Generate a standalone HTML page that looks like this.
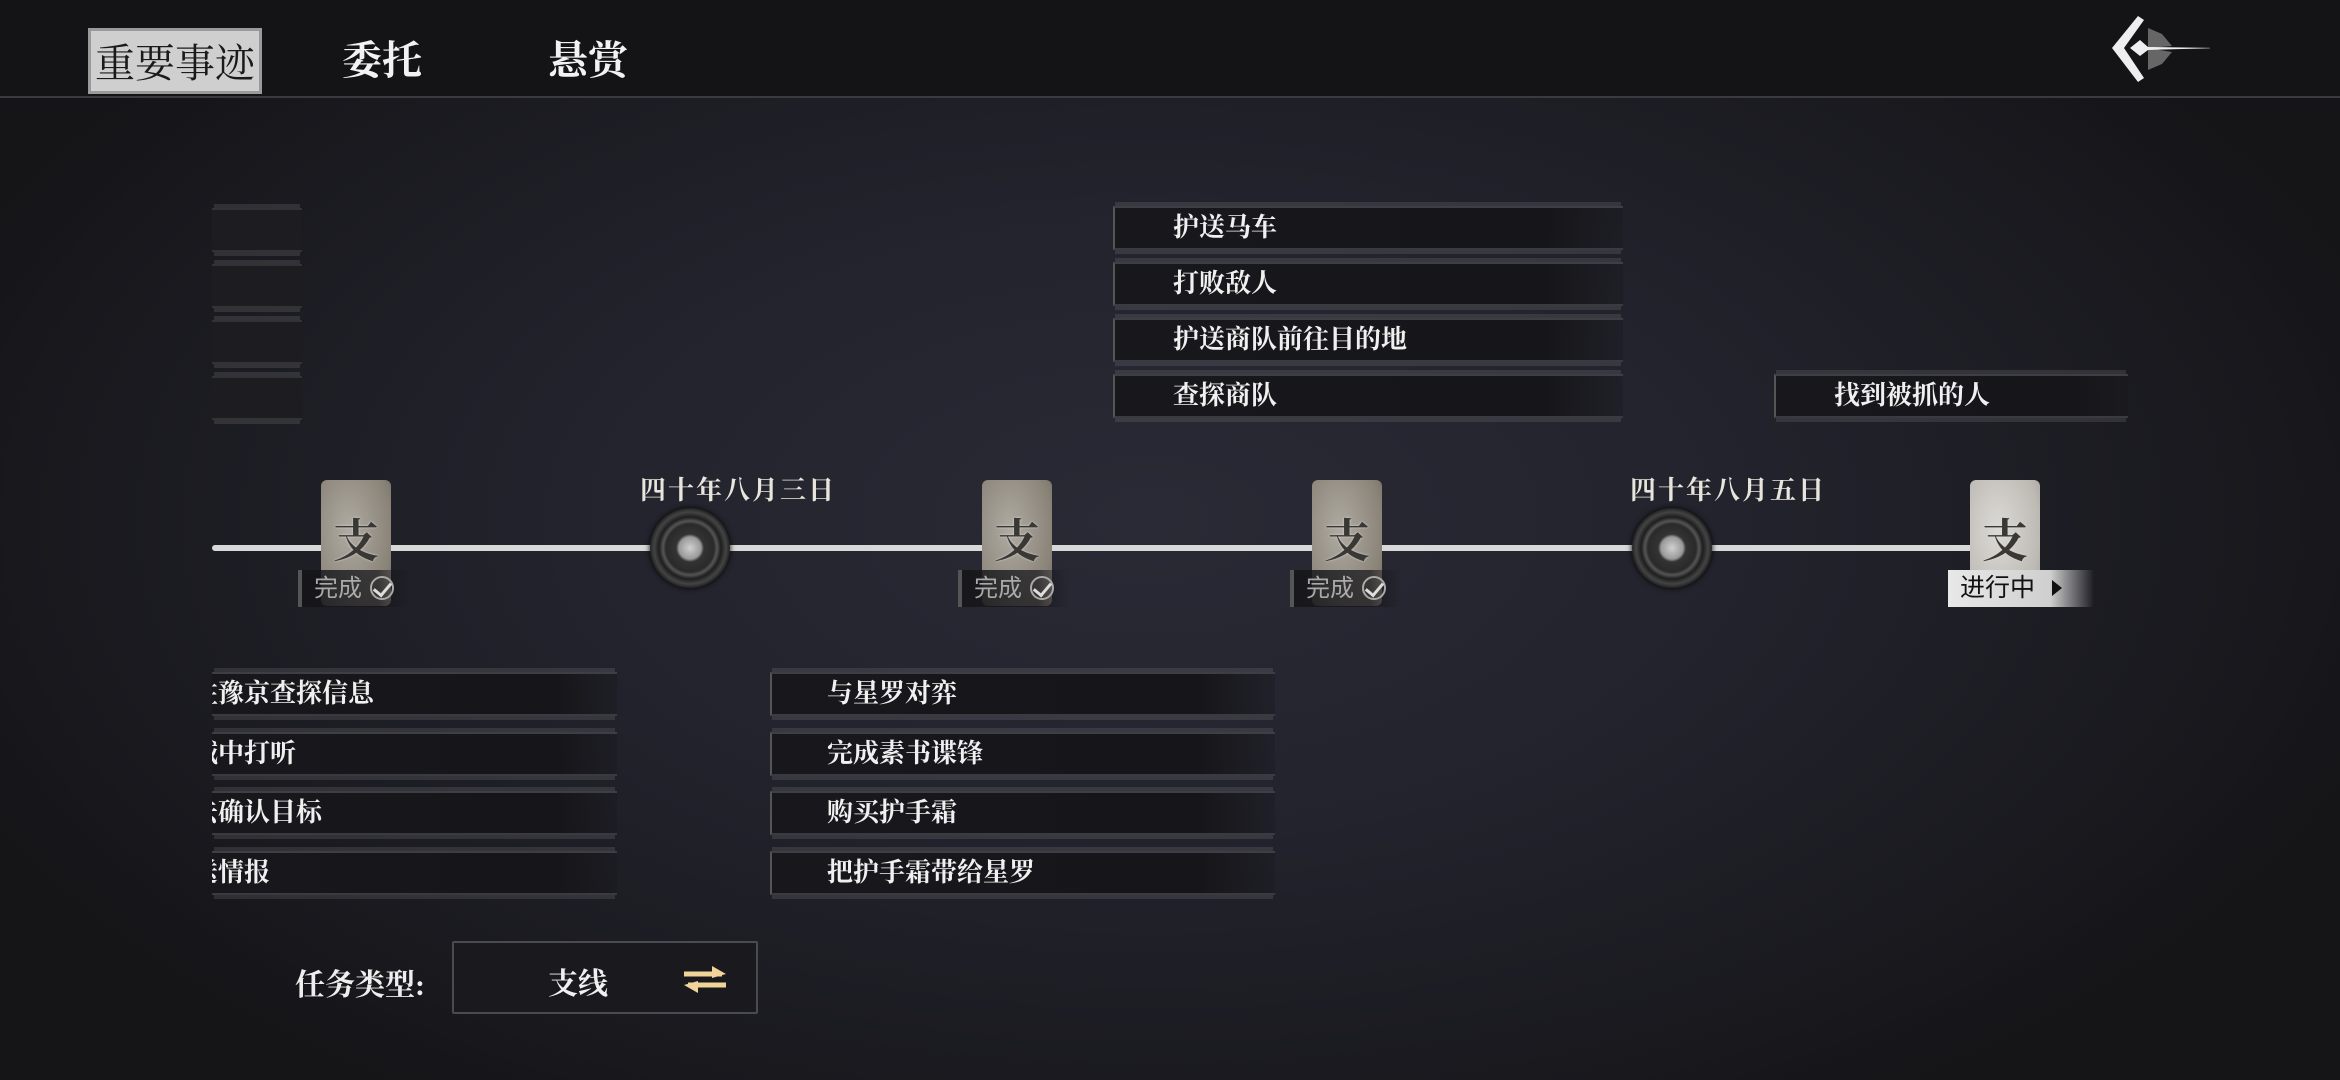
<!DOCTYPE html>
<html><head><meta charset="utf-8">
<style>
*{margin:0;padding:0;box-sizing:border-box}
body{width:2340px;height:1080px;overflow:hidden;position:relative;font-family:"Liberation Serif","Noto Serif CJK SC","Noto Sans CJK SC",serif;
background:radial-gradient(ellipse 1300px 700px at 1150px 520px,#2a2a36 0%,#23232d 45%,#1a1a20 80%,#151518 100%);color:#eee}
.hdr{position:absolute;left:0;top:0;width:2340px;height:98px;background:#141417;border-bottom:2px solid #3a3a40}
.tab{position:absolute;top:28px;height:66px;line-height:66px;font-size:40px;color:#f2f2f2;font-weight:bold}
.tab1{left:88px;width:174px;background:#cfcfcf;color:#1a1a1a;text-align:center;border:3px solid #9a9a9a;font-weight:normal}
.line{position:absolute;left:212px;top:545px;width:1770px;height:6px;background:#d8d8d8;border-radius:3px}
.tile{position:absolute;top:480px;width:70px;height:126px;border-radius:6px;background:radial-gradient(ellipse at 40% 40%,#b0aba2,#8a8479 70%,#6e685f);font-size:46px;color:#3a3835;text-align:center;line-height:124px;font-weight:bold;text-shadow:0 0 2px #ddd}
.tile.last{background:radial-gradient(ellipse at 40% 40%,#dcdad6,#bdbab4 70%,#9d9a94)}
.done{position:absolute;top:570px;width:112px;height:37px;background:linear-gradient(90deg,rgba(20,20,24,.85),rgba(20,20,24,.7) 70%,rgba(20,20,24,0));border-left:4px solid #555;font-family:"Liberation Sans","Noto Sans CJK SC",sans-serif;font-size:24px;color:#aaa;line-height:37px;padding-left:12px}
.done b{display:inline-block;width:24px;height:24px;border:2px solid #aaa;border-radius:50%;vertical-align:-4px;margin-left:8px;position:relative}
.done b:after{content:"";position:absolute;left:5px;top:1px;width:8px;height:14px;border-right:3px solid #ddd;border-bottom:3px solid #ddd;transform:rotate(40deg)}
.prog{position:absolute;left:1948px;top:570px;width:146px;height:37px;background:linear-gradient(90deg,#e8e8e8,#cfcfcf 70%,rgba(200,200,200,0));font-family:"Liberation Sans","Noto Sans CJK SC",sans-serif;font-size:25px;color:#111;line-height:37px;padding-left:12px}
.prog:after{content:"";position:absolute;left:104px;top:10px;border-left:10px solid #111;border-top:8px solid transparent;border-bottom:8px solid transparent}
.disc{position:absolute;width:80px;height:80px;border-radius:50%;background:radial-gradient(circle,#d0d0d0 0,#9a9a9a 11px,#333 14px,#2a2a2a 24px,#555 27px,#1e1e1e 31px,#444 36px,#222 40px);box-shadow:0 0 6px #000}
.date{position:absolute;top:470px;font-size:26px;color:#e8e6dc;font-weight:bold;letter-spacing:2px}
.list{position:absolute;overflow:hidden}
.row{position:absolute;left:0;right:0;height:44px;background:linear-gradient(90deg,#18181c,#16161a 85%,rgba(22,22,26,.3));border-left:2px solid #555;border-top:2px solid #3e3e44;border-bottom:2px solid #3a3a40;box-shadow:0 -6px 0 -2px rgba(120,120,125,.25),0 6px 0 -2px rgba(120,120,125,.25);font-size:26px;line-height:40px;color:#f0f0f0;font-weight:bold;white-space:nowrap}
.row span{position:absolute;top:0}
.faint .row{border-left:0;background:#1c1c21;border-top-color:#333;border-bottom-color:#333}
.lbl{position:absolute;left:295px;top:960px;font-size:30px;color:#eee;font-weight:bold}
.sel{position:absolute;left:452px;top:941px;width:306px;height:73px;background:#1a1a1e;border:2px solid #4a4a50;border-radius:2px}
.sel .t{position:absolute;left:94px;top:16px;font-size:30px;font-weight:bold;color:#f0f0f0}
</style></head><body>
<div class="hdr">
 <div class="tab tab1">重要事迹</div>
 <div class="tab" style="left:342px">委托</div>
 <div class="tab" style="left:548px">悬赏</div>
 <svg style="position:absolute;left:2100px;top:10px" width="110" height="80" viewBox="0 0 110 80">
  <path d="M48 18 L62 24 L72 36 L48 38 L72 42 L62 54 L48 60Z" fill="#666"/>
  <path d="M38 6 L12 38 L38 72 L44 68 L24 38 L44 10Z" fill="#eee"/>
  <path d="M30 38 L40 30 L48 37 L118 38 L48 40 L40 46Z" fill="#eee"/>
 </svg>
</div>

<div class="list faint" style="left:212px;top:190px;width:90px;height:250px">
 <div class="row" style="top:18px"></div><div class="row" style="top:74px"></div><div class="row" style="top:130px"></div><div class="row" style="top:186px"></div>
</div>

<div class="list" style="left:1113px;top:190px;width:510px;height:240px">
 <div class="row" style="top:16px"><span style="left:58px">护送马车</span></div>
 <div class="row" style="top:72px"><span style="left:58px">打败敌人</span></div>
 <div class="row" style="top:128px"><span style="left:58px">护送商队前往目的地</span></div>
 <div class="row" style="top:184px"><span style="left:58px">查探商队</span></div>
</div>

<div class="list" style="left:1774px;top:360px;width:354px;height:70px">
 <div class="row" style="top:14px"><span style="left:58px">找到被抓的人</span></div>
</div>

<div class="line"></div>
<div class="tile" style="left:321px">支</div>
<div class="tile" style="left:982px">支</div>
<div class="tile" style="left:1312px">支</div>
<div class="tile last" style="left:1970px">支</div>
<div class="done" style="left:298px">完成<b></b></div>
<div class="done" style="left:958px">完成<b></b></div>
<div class="done" style="left:1290px">完成<b></b></div>
<div class="prog">进行中</div>
<div class="disc" style="left:650px;top:508px"></div>
<div class="disc" style="left:1632px;top:508px"></div>
<div class="date" style="left:640px">四十年八月三日</div>
<div class="date" style="left:1630px">四十年八月五日</div>

<div class="list" style="left:212px;top:660px;width:405px;height:250px">
 <div class="row" style="top:12px;border-left:0"><span style="left:-20px">往豫京查探信息</span></div>
 <div class="row" style="top:72px;border-left:0"><span style="left:-20px">城中打听</span></div>
 <div class="row" style="top:131px;border-left:0"><span style="left:-20px">去确认目标</span></div>
 <div class="row" style="top:191px;border-left:0"><span style="left:-20px">送情报</span></div>
</div>

<div class="list" style="left:770px;top:660px;width:505px;height:250px">
 <div class="row" style="top:12px"><span style="left:55px">与星罗对弈</span></div>
 <div class="row" style="top:72px"><span style="left:55px">完成素书谍锋</span></div>
 <div class="row" style="top:131px"><span style="left:55px">购买护手霜</span></div>
 <div class="row" style="top:191px"><span style="left:55px">把护手霜带给星罗</span></div>
</div>

<div class="lbl">任务类型:</div>
<div class="sel"><div class="t">支线</div>
 <svg style="position:absolute;left:228px;top:20px" width="46" height="32" viewBox="0 0 46 32">
  <path d="M2 11 H40" stroke="#f0d49a" stroke-width="5" fill="none"/>
  <path d="M30 3 L44 11 L30 15Z" fill="#f0d49a"/>
  <path d="M6 22 H44" stroke="#f0d49a" stroke-width="5" fill="none"/>
  <path d="M16 18 L2 22 L16 30Z" fill="#f0d49a"/>
 </svg>
</div>
</body></html>
